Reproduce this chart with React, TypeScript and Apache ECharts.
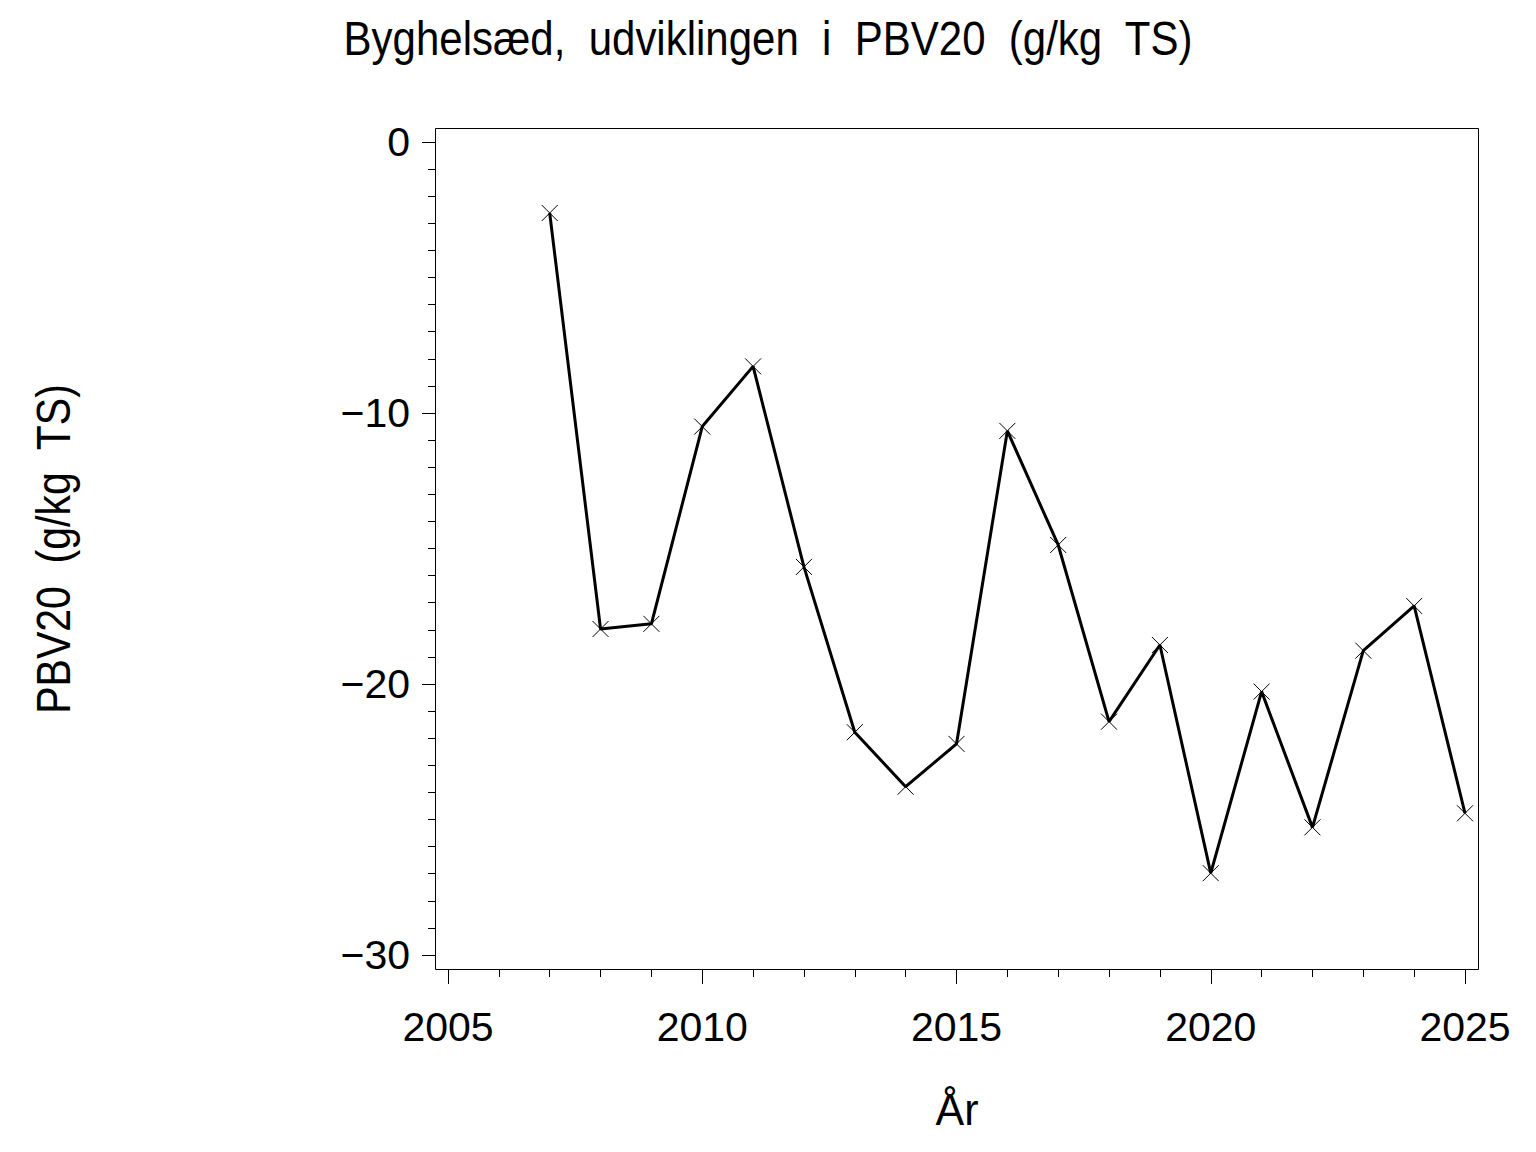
import React, { useEffect, useRef } from "react";
import * as echarts from "echarts";

const years = [2007, 2008, 2009, 2010, 2011, 2012, 2013, 2014, 2015, 2016, 2017, 2018, 2019, 2020, 2021, 2022, 2023, 2024, 2025];
const pbv20 = [-2.62, -17.97, -17.78, -10.5, -8.28, -15.68, -21.78, -23.79, -22.21, -10.66, -14.87, -21.39, -18.56, -26.98, -20.28, -25.29, -18.77, -17.12, -24.77];

const titleText = "Byghelsæd,  udviklingen  i  PBV20  (g/kg  TS)";
const yName = "PBV20  (g/kg  TS)";
const xName = "År";

const FONT = "'Liberation Sans', Arial, sans-serif";

export default function App() {
  const ref = useRef<HTMLDivElement>(null);
  useEffect(() => {
    if (!ref.current) return;
    const chart = echarts.init(ref.current, undefined, { renderer: "svg" });
    const data = years.map((y, i) => [y, pbv20[i]]);
    chart.setOption({
      animation: false,
      backgroundColor: "#fff",
      textStyle: { fontFamily: FONT, color: "#000" },
      grid: { left: 448, right: 71, top: 142, bottom: 197, containLabel: false, outerBoundsMode: "none" },
      xAxis: {
        type: "value",
        position: "bottom",
        min: 2005,
        max: 2025,
        interval: 5,
        offset: 15,
        axisLine: { show: false, onZero: false },
        axisTick: { show: true, length: 14, lineStyle: { color: "#000", width: 1 } },
        minorTick: { show: true, splitNumber: 5, length: 7, lineStyle: { color: "#000", width: 1 } },
        splitLine: { show: false },
        axisLabel: { margin: 36, fontSize: 41, color: "#000", fontFamily: FONT, formatter: (v: number) => String(v) },
      },
      yAxis: {
        type: "value",
        position: "left",
        min: -30,
        max: 0,
        interval: 10,
        offset: 13,
        axisLine: { show: false, onZero: false },
        axisTick: { show: true, length: 13, lineStyle: { color: "#000", width: 1 } },
        minorTick: { show: true, splitNumber: 10, length: 7, lineStyle: { color: "#000", width: 1 } },
        splitLine: { show: false },
        axisLabel: {
          margin: 25,
          fontSize: 41,
          color: "#000",
          fontFamily: FONT,
          formatter: (v: number) => (v < 0 ? "\u2212" + Math.abs(v) : String(v)),
        },
      },
      graphic: [
        {
          type: "rect",
          shape: { x: 435.5, y: 128.5, width: 1043, height: 841 },
          style: { fill: "none", stroke: "#000", lineWidth: 1 },
          silent: true,
        },
        {
          type: "text",
          x: 768,
          y: 38,
          scaleY: 1.15,
          style: { text: titleText, fontSize: 42, fontFamily: FONT, fill: "#000", align: "center", verticalAlign: "middle" },
        },
        {
          type: "text",
          x: 53,
          y: 549,
          rotation: Math.PI / 2,
          scaleY: 1.15,
          style: { text: yName, fontSize: 41, fontFamily: FONT, fill: "#000", align: "center", verticalAlign: "middle" },
        },
        {
          type: "text",
          x: 957,
          y: 1109,
          scaleY: 1.05,
          style: { text: xName, fontSize: 43, fontFamily: FONT, fill: "#000", align: "center", verticalAlign: "middle" },
        },
      ],
      series: [
        {
          type: "line",
          data,
          clip: false,
          color: "#000",
          lineStyle: { color: "#000", width: 3 },
          symbol: "path://M0,0L10,10M10,0L0,10",
          symbolSize: 16,
          itemStyle: { color: "#000", borderColor: "#000", borderWidth: 1 },
          emphasis: { disabled: true },
        },
      ],
    });
    return () => chart.dispose();
  }, []);
  return <div ref={ref} style={{ position: "fixed", left: 0, top: 0, width: 1536, height: 1152, background: "#fff" }} />;
}
